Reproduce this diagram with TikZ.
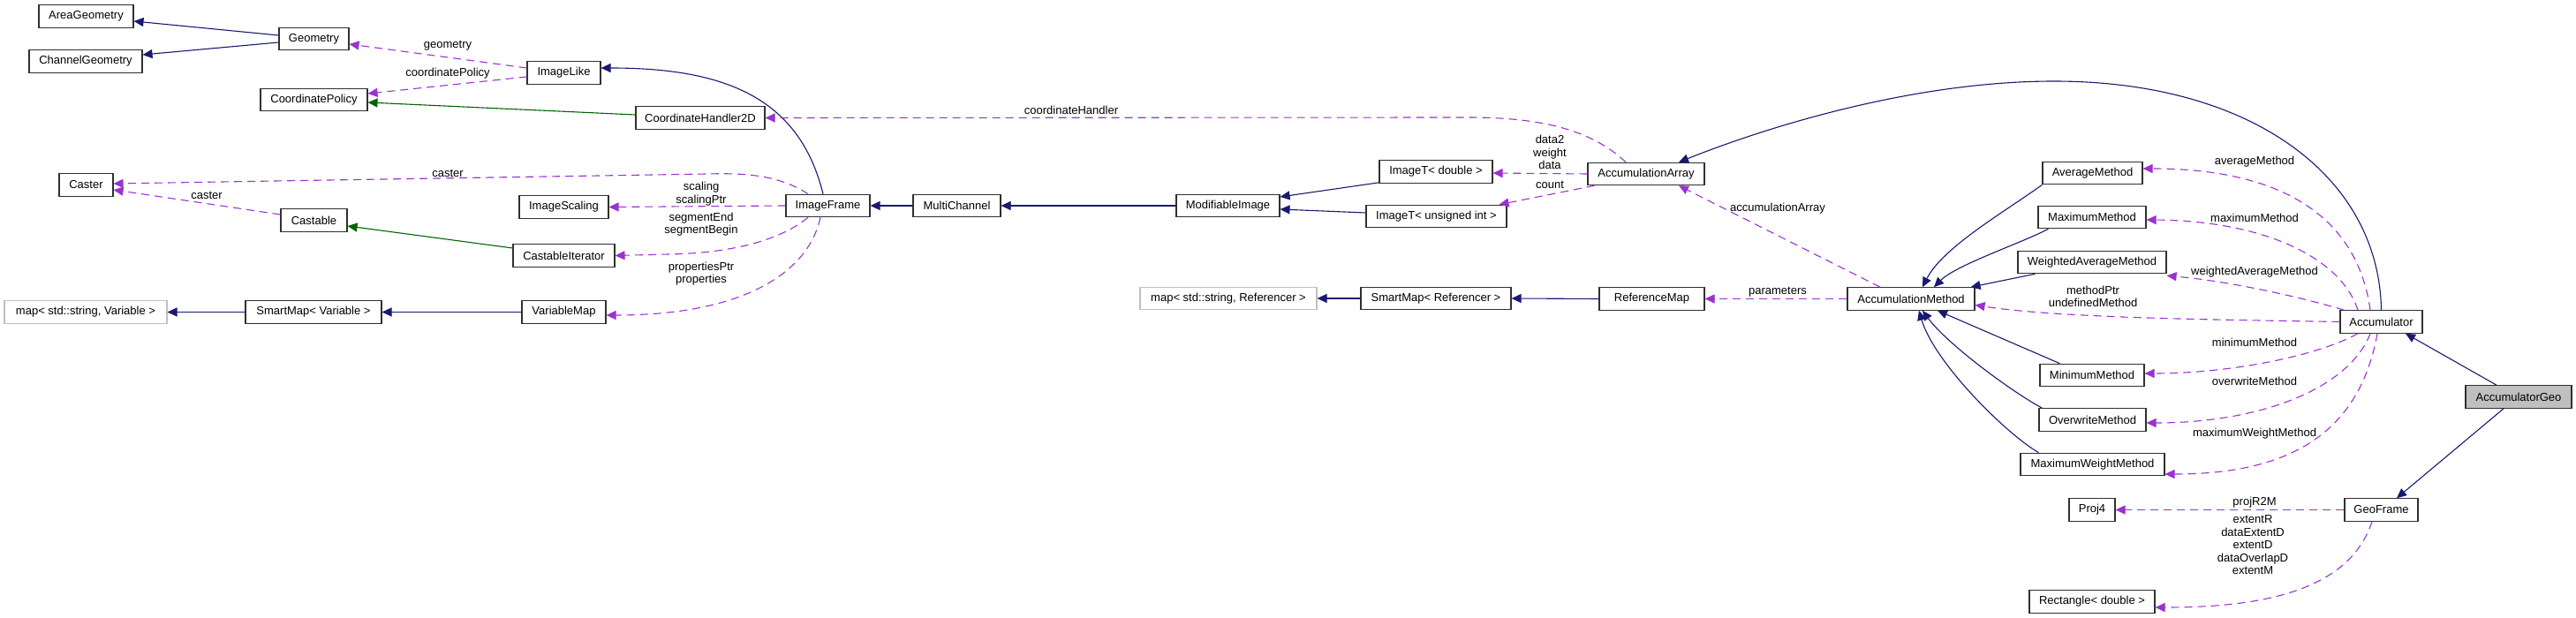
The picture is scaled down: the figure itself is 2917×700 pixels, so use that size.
\documentclass[tikz,border=0pt]{standalone}
\usepackage{fontspec}
\setmainfont{Liberation Sans}
\usetikzlibrary{arrows.meta,calc}
\definecolor{inh}{HTML}{191970}
\definecolor{prot}{HTML}{006400}
\definecolor{use}{HTML}{9A32CD}
\definecolor{graybd}{HTML}{BFBFBF}
\definecolor{bd}{HTML}{303030}
\tikzset{
  box/.style={draw=bd,line width=0.55pt,rectangle,minimum height=12.75pt,inner sep=0pt,fill=white,font=\fontsize{6.5}{7.25}\selectfont},
  extbox/.style={box,draw=graybd},
  selbox/.style={box,fill=graybd},
  lbl/.style={inner sep=0pt,align=center,font=\fontsize{6.5}{7.25}\selectfont},
  inhedge/.style={-{Triangle[length=5.5pt,width=5pt]},draw=inh,line width=0.55pt},
  protedge/.style={-{Triangle[length=5.5pt,width=5pt]},draw=prot,line width=0.55pt},
  useedge/.style={-{Triangle[length=5.5pt,width=5pt]},draw=use,line width=0.55pt,dash pattern=on 4.5pt off 3pt},
}
\begin{document}
\begin{tikzpicture}[x=0.5pt,y=-0.5pt]
\useasboundingbox (0,0) rectangle (2917,700);
% nodes
\node[box,minimum width=53.5pt] (areageo) at (97.5,18.5) {AreaGeometry};
\node[box,minimum width=64pt] (chgeo) at (97,69.5) {ChannelGeometry};
\node[box,minimum width=39.5pt] (geom) at (355.5,44) {Geometry};
\node[box,minimum width=41.5pt] (imglike) at (638.5,82.5) {ImageLike};
\node[box,minimum width=60.5pt] (coordpol) at (355.5,113) {CoordinatePolicy};
\node[box,minimum width=73pt] (coordh) at (793,133.5) {CoordinateHandler2D};
\node[box,minimum width=30.5pt] (caster) at (97.5,209.5) {Caster};
\node[box,minimum width=37.5pt] (castable) at (355.5,249.5) {Castable};
\node[box,minimum width=50.5pt] (imgscal) at (638.5,234.5) {ImageScaling};
\node[box,minimum width=57.5pt] (castit) at (638.5,289.5) {CastableIterator};
\node[extbox,minimum width=92pt] (mapvar) at (97,353.5) {map< std::string, Variable >};
\node[box,minimum width=77pt] (smvar) at (355,353.5) {SmartMap< Variable >};
\node[box,minimum width=47.5pt] (varmap) at (638.5,353.5) {VariableMap};
\node[box,minimum width=47.5pt] (imgframe) at (937.5,233) {ImageFrame};
\node[box,minimum width=49.5pt] (multich) at (1083.5,233) {MultiChannel};
\node[box,minimum width=58.5pt] (modimg) at (1390.5,233) {ModifiableImage};
\node[box,minimum width=64pt] (imgtd) at (1626,194.5) {ImageT< double >};
\node[box,minimum width=79.5pt] (imgtu) at (1626.5,245) {ImageT< unsigned int >};
\node[box,minimum width=66pt] (accarr) at (1864,197) {AccumulationArray};
\node[extbox,minimum width=100pt] (mapref) at (1391,338) {map< std::string, Referencer >};
\node[box,minimum width=85pt] (smref) at (1626,338) {SmartMap< Referencer >};
\node[box,minimum width=59.5pt] (refmap) at (1870.5,338.5) {ReferenceMap};
\node[box,minimum width=72pt] (accmeth) at (2164,338.5) {AccumulationMethod};
\node[box,minimum width=56.5pt] (avgm) at (2369.5,196) {AverageMethod};
\node[box,minimum width=61pt] (maxm) at (2369,246) {MaximumMethod};
\node[box,minimum width=84pt] (wavgm) at (2369,297) {WeightedAverageMethod};
\node[box,minimum width=46.5pt] (accum) at (2696.5,364.5) {Accumulator};
\node[box,minimum width=59pt] (minm) at (2369,425) {MinimumMethod};
\node[box,minimum width=60.5pt] (overm) at (2369.5,475.5) {OverwriteMethod};
\node[box,minimum width=81.5pt] (maxwm) at (2369.5,526) {MaximumWeightMethod};
\node[selbox,minimum width=60pt] (accgeo) at (2852,449.5) {AccumulatorGeo};
\node[box,minimum width=26pt] (proj) at (2369,577.5) {Proj4};
\node[box,minimum width=41.5pt] (geoframe) at (2696.5,577.5) {GeoFrame};
\node[box,minimum width=71pt] (rect) at (2369,681.5) {Rectangle< double >};
% inheritance (public)
\draw[inhedge] ($(geom.west)+(0,-4)$) -- ($(areageo.east)+(0,5.5)$);
\draw[inhedge] ($(geom.west)+(0,4)$) -- ($(chgeo.east)+(0,-7.5)$);
\draw[inhedge] ($(imgframe.north)+(-5.5,0)$) .. controls (905,110) and (820,77) .. ($(imglike.east)+(0,-5.5)$);
\draw[inhedge] (multich.west) -- (imgframe.east);
\draw[inhedge] (modimg.west) -- (multich.east);
\draw[inhedge] ($(imgtd.south west)+(0,-1)$) -- ($(modimg.east)+(0,-10)$);
\draw[inhedge] ($(imgtu.west)+(0,-4)$) -- ($(modimg.east)+(0,4)$);
\draw[inhedge] (accum.north) .. controls (2694,200) and (2550,92) .. (2326,92) .. controls (2160,92) and (1990,148) .. ($(accarr.north)+(37,0)$);
\draw[inhedge] (avgm.south west) .. controls (2270,240) and (2200,280) .. ($(accmeth.north)+(13,0)$);
\draw[inhedge] ($(maxm.south west)+(12,0)$) .. controls (2290,275) and (2215,300) .. ($(accmeth.north)+(26,0)$);
\draw[inhedge] ($(wavgm.south west)+(20,0)$) -- ($(accmeth.north east)+(-5,0)$);
\draw[inhedge] ($(minm.north west)+(23,0)$) -- ($(accmeth.south)+(30,0)$);
\draw[inhedge] ($(overm.north west)+(4,0)$) .. controls (2280,445) and (2205,390) .. ($(accmeth.south)+(13,0)$);
\draw[inhedge] ($(maxwm.north west)+(21,0)$) .. controls (2270,490) and (2190,410) .. ($(accmeth.south)+(9,0)$);
\draw[inhedge] ($(accgeo.north)+(-25,0)$) -- ($(accum.south)+(27.5,0)$);
\draw[inhedge] ($(accgeo.south)+(-17,0)$) -- ($(geoframe.north)+(17.5,0)$);
\draw[inhedge] (smvar.west) -- (mapvar.east);
\draw[inhedge] (varmap.west) -- (smvar.east);
\draw[inhedge] (smref.west) -- (mapref.east);
\draw[inhedge] (refmap.west) -- (smref.east);
% inheritance (protected)
\draw[protedge] ($(coordh.west)+(0,-3.5)$) -- ($(coordpol.east)+(0,3)$);
\draw[protedge] ($(castit.west)+(0,-8.5)$) -- ($(castable.east)+(0,6.5)$);
% usage
\draw[useedge] ($(imglike.west)+(0,-5.5)$) -- ($(geom.east)+(0,6)$);
\draw[useedge] ($(imglike.west)+(0,4.5)$) -- ($(coordpol.east)+(0,-7)$);
\draw[useedge] ($(accarr.north)+(-23,0)$) .. controls (1800,145) and (1740,133) .. (1662,133) -- (coordh.east);
\draw[useedge] ($(imgframe.north)+(-22.5,0)$) .. controls (880,197) and (840,196) .. (800,197) -- ($(caster.east)+(0,-1.5)$);
\draw[useedge] ($(castable.west)+(0,-6.5)$) -- ($(caster.east)+(0,5.5)$);
\draw[useedge] (imgframe.west) -- (imgscal.east);
\draw[useedge] ($(imgframe.south)+(-22.5,0)$) .. controls (880,275) and (820,287) .. (757,288) -- (castit.east);
\draw[useedge] ($(imgframe.south)+(-8.5,0)$) .. controls (915,310) and (840,357) .. ($(varmap.east)+(0,3.5)$);
\draw[useedge] (accarr.west) -- ($(imgtd.east)+(0,1.5)$);
\draw[useedge] ($(accarr.south west)+(8,0)$) -- ($(imgtu.north east)+(-9,0)$);
\draw[useedge] ($(accmeth.north)+(-35,0)$) -- ($(accarr.south)+(37,0)$);
\draw[useedge] (accmeth.west) -- (refmap.east);
\draw[useedge] (accum.west) .. controls (2500,362) and (2330,360) .. ($(accmeth.east)+(0,7)$);
\draw[useedge] ($(accum.north)+(-12.5,0)$) .. controls (2670,250) and (2590,191) .. ($(avgm.east)+(0,-5)$);
\draw[useedge] ($(accum.north)+(-26.5,0)$) .. controls (2650,290) and (2560,250) .. ($(maxm.east)+(0,3)$);
\draw[useedge] ($(accum.north west)+(5,0)$) .. controls (2600,335) and (2520,318) .. ($(wavgm.south east)+(0,2)$);
\draw[useedge] ($(accum.south)+(-26.5,0)$) .. controls (2620,405) and (2520,423) .. ($(minm.east)+(0,-2)$);
\draw[useedge] ($(accum.south)+(-12.5,0)$) .. controls (2660,440) and (2560,479) .. ($(overm.east)+(0,3.5)$);
\draw[useedge] ($(accum.south)+(-4.5,0)$) .. controls (2670,500) and (2580,537) .. ($(maxwm.east)+(0,11)$);
\draw[useedge] (geoframe.west) -- (proj.east);
\draw[useedge] ($(geoframe.south)+(-10.5,0)$) .. controls (2660,670) and (2560,688) .. ($(rect.east)+(0,6.5)$);
% labels
\node[lbl] (l1) at (507,52) {geometry};
\node[lbl] (l2) at (507,83) {coordinatePolicy};
\node[lbl] (l3) at (1213,125) {coordinateHandler};
\node[lbl] (l4) at (507,196) {caster};
\node[lbl] (l5) at (234,221) {caster};
\node[lbl] (l6) at (794,219.5) {scaling\\scalingPtr};
\node[lbl] (l7) at (794,254) {segmentEnd\\segmentBegin};
\node[lbl] (l8) at (794,310) {propertiesPtr\\properties};
\node[lbl] (l9) at (1755,172.5) {data2\\weight\\data};
\node[lbl] (l10) at (1755,209) {count};
\node[lbl] (l11) at (2013,236) {accumulationArray};
\node[lbl] (l12) at (2013,331) {parameters};
\node[lbl] (l13) at (2370,336) {methodPtr\\undefinedMethod};
\node[lbl] (l14) at (2553,183) {averageMethod};
\node[lbl] (l15) at (2553,247) {maximumMethod};
\node[lbl] (l16) at (2553,308) {weightedAverageMethod};
\node[lbl] (l17) at (2553,388) {minimumMethod};
\node[lbl] (l18) at (2553,432) {overwriteMethod};
\node[lbl] (l19) at (2553,491) {maximumWeightMethod};
\node[lbl] (l20) at (2553,569) {projR2M};
\node[lbl] (l21) at (2551,617.5) {extentR\\dataExtentD\\extentD\\dataOverlapD\\extentM};
\end{tikzpicture}
\end{document}
